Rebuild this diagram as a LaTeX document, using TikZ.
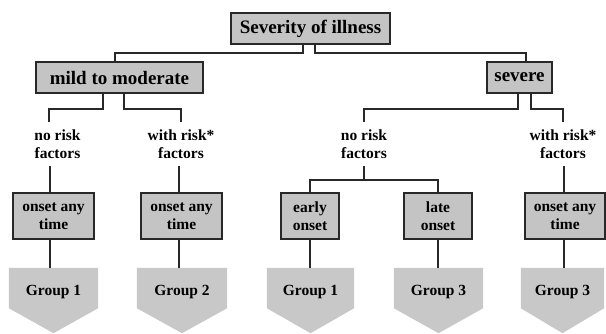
\documentclass[tikz,border=0pt]{standalone}
\usepackage{fontspec}
\setmainfont{Liberation Serif}
\usetikzlibrary{backgrounds}
\definecolor{boxgray}{RGB}{196,196,196}
\definecolor{pentgray}{RGB}{200,200,200}
\definecolor{linecol}{RGB}{40,40,40}
\begin{document}
\begin{tikzpicture}[x=1pt,y=-1pt,
  conn/.style={line width=1.8pt, draw=linecol},
  bigtext/.style={font=\fontsize{19}{22}\selectfont\bfseries},
  smalltext/.style={font=\fontsize{15.5}{18}\selectfont\bfseries, align=center},
  gbox/.style={draw=linecol, line width=1.5pt, fill=boxgray, inner sep=0pt},
  plain/.style={inner sep=0pt, minimum height=44pt},
  pent/.style={inner sep=0pt, minimum height=48pt},
]
\useasboundingbox (0,0) rectangle (606,333);

% top level
\node[gbox, bigtext, line width=2.5pt, minimum width=159pt, minimum height=31pt] (T) at (310.5,28.5) {Severity of illness};
\node[gbox, bigtext, minimum width=167pt, minimum height=31pt] (M) at (119.5,77.5) {mild to moderate};
\node[gbox, bigtext, minimum width=65pt, minimum height=31pt] (S) at (519.5,77.5) {severe};

% risk texts
\node[plain, smalltext] (A1) at (57.5,144) {no risk\\factors};
\node[plain, smalltext] (A2) at (181,144) {with risk*\\factors};
\node[plain, smalltext] (B1) at (364,144) {no risk\\factors};
\node[plain, smalltext] (B2) at (563,144) {with risk*\\factors};

% onset boxes
\node[gbox, smalltext, minimum width=81pt, minimum height=46pt] (O1) at (53.5,216) {onset any\\time};
\node[gbox, smalltext, minimum width=81pt, minimum height=46pt] (O2) at (181.5,216) {onset any\\time};
\node[gbox, smalltext, minimum width=58pt, minimum height=46pt] (E) at (310,216) {early\\onset};
\node[gbox, smalltext, minimum width=68pt, minimum height=46pt] (L) at (438,216) {late\\onset};
\node[gbox, smalltext, minimum width=80pt, minimum height=46pt] (O3) at (565,216) {onset any\\time};

% group pentagons (text nodes)
\node[pent, smalltext, minimum width=89pt] (P1) at (53.5,292) {Group 1};
\node[pent, smalltext, minimum width=90pt] (P2) at (182,292) {Group 2};
\node[pent, smalltext, minimum width=87pt] (P3) at (310.5,292) {Group 1};
\node[pent, smalltext, minimum width=89pt] (P4) at (438.5,292) {Group 3};
\node[pent, smalltext, minimum width=83pt] (P5) at (562.5,292) {Group 3};

\begin{pgfonlayer}{background}
\foreach \p in {P1,P2,P3,P4,P5}
  \fill[pentgray] (\p.north west) -- (\p.north east) -- ([yshift=8pt]\p.south east)
    -- ([yshift=-17pt]\p.south) -- ([yshift=8pt]\p.south west) -- cycle;
\end{pgfonlayer}

% connectors
\draw[conn] ([xshift=-7.5pt]T.south) -- ++(0,8) -| ([xshift=-4.5pt]M.north);
\draw[conn] ([xshift=4.5pt]T.south) -- ++(0,8) -| ([xshift=6.5pt]S.north);

\draw[conn] ([xshift=-16.5pt]M.south) -- ++(0,15) -| ([xshift=-8.5pt]A1.north);
\draw[conn] ([xshift=4.5pt]M.south) -- ++(0,15) -| (A2.north);
\draw[conn] ([xshift=-1.5pt]S.south) -- ++(0,15) -| (B1.north);
\draw[conn] ([xshift=11.5pt]S.south) -- ++(0,15) -| (B2.north);

\draw[conn] ([xshift=-7.5pt]A1.south) -- ([xshift=-3.5pt]O1.north);
\draw[conn] ([xshift=-2pt]A2.south) -- ([xshift=-2.5pt]O2.north);
\draw[conn] (B1.south) -- ++(0,14) coordinate (bj);
\draw[conn] (E.north) |- (bj) -| (L.north);
\draw[conn] ([xshift=1pt]B2.south) -- ([xshift=-1pt]O3.north);

\draw[conn] ([xshift=-3.5pt]O1.south) -- ([xshift=-3.5pt]P1.north);
\draw[conn] ([xshift=-2.5pt]O2.south) -- ([xshift=-3pt]P2.north);
\draw[conn] (E.south) -- ([xshift=-0.5pt]P3.north);
\draw[conn] (L.south) -- ([xshift=-0.5pt]P4.north);
\draw[conn] ([xshift=-1pt]O3.south) -- ([xshift=1.5pt]P5.north);
\end{tikzpicture}
\end{document}
